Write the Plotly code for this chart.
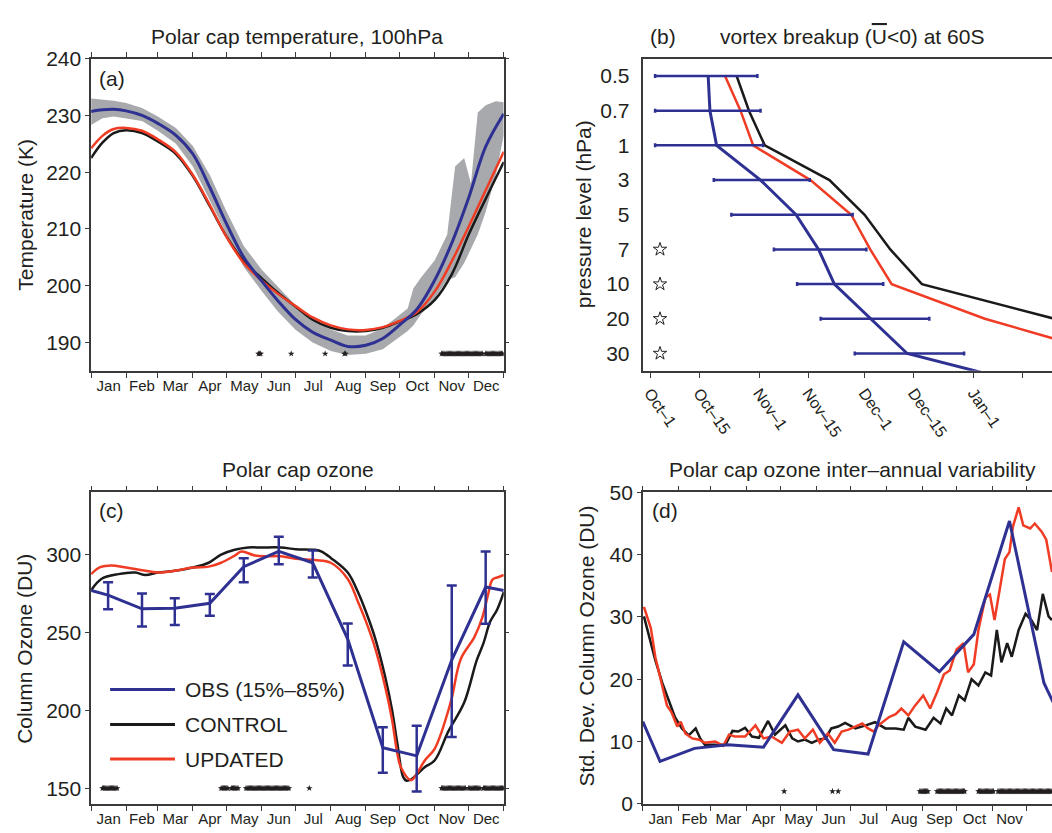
import plotly.graph_objects as go

# ---------------- shared -----------------
MONTHS = ["Jan", "Feb", "Mar", "Apr", "May", "Jun", "Jul", "Aug", "Sep", "Oct", "Nov", "Dec"]
MONTH_START = [0, 31, 59, 90, 120, 151, 181, 212, 243, 273, 304, 334, 365]
MONTH_MID = [15.5, 45, 74.5, 105, 135.5, 166, 196.5, 227.5, 258, 288.5, 319, 349.5]

# ---------------- panel (a): polar cap temperature 100 hPa -----------------
a_days = [0, 10, 20, 31, 45, 59, 75, 90, 105, 120, 135, 151, 165, 181, 196, 212, 227, 243,
          258, 273, 288, 304, 319, 334, 349, 365]
a_obs = [230.7, 231.0, 231.1, 230.8, 230.0, 228.6, 226.5, 223.2, 217.3, 210.8, 205.0, 200.8,
         197.4, 194.0, 191.8, 190.4, 189.3, 189.5, 190.7, 193.1, 195.8, 201.0, 207.5, 215.5,
         224.5, 230.3]
a_upd = [224.2, 226.4, 227.6, 227.8, 227.3, 225.8, 223.5, 219.5, 214.2, 208.5, 204.0, 200.9,
         198.6, 196.4, 194.4, 193.0, 192.3, 192.2, 192.7, 193.8, 195.3, 199.0, 204.3, 210.4,
         216.8, 223.6]
a_ctl = [222.5, 225.2, 226.9, 227.4, 226.9, 225.4, 223.2, 219.3, 214.0, 208.6, 204.3, 201.3,
         198.8, 196.3, 194.0, 192.6, 192.0, 192.0, 192.6, 193.7, 195.0, 197.5, 202.0, 209.0,
         215.3, 221.8]
band_days = [0, 10, 20, 31, 45, 59, 75, 90, 105, 120, 135, 151, 165, 181, 196, 212, 227, 243,
             258, 270, 280, 285, 292, 304, 315, 322, 330, 336, 342, 349, 358, 365]
band_hi = [233.0, 232.8, 232.6, 232.2, 231.3, 229.8, 227.8, 224.6, 219.5, 213.0, 207.0, 202.8,
           199.8, 196.5, 194.0, 192.3, 191.2, 191.2, 192.5, 194.5, 196.0, 199.5, 201.5, 204.5,
           209.0, 221.0, 222.5, 218.0, 230.5, 231.8, 232.5, 232.3]
band_lo = [228.3, 229.5, 229.8, 229.5, 229.0, 227.3, 225.0, 221.0, 215.0, 209.0, 203.3, 199.0,
           195.5, 192.2, 190.0, 188.5, 187.8, 188.0, 188.8, 190.5, 192.0, 193.0, 195.0, 197.8,
           201.0, 201.5, 204.0, 206.5, 209.0, 213.0, 219.5, 226.5]
a_sig_spans = [(148, 150), (177, 177), (207, 207), (224, 225), (310, 346), (349, 364)]
a_sig_level = 188

# ---------------- panel (b): vortex breakup date at 60S -----------------
b_levels = ["0.5", "0.7", "1", "3", "5", "7", "10", "20", "30", "50"]
b_tickvals = [0, 14, 31, 45, 61, 75, 92, 106]          # days after Oct-1
b_ticktext = ["Oct–1", "Oct–15", "Nov–1", "Nov–15", "Dec–1", "Dec–15", "Jan–1", "Jan–15"]
b_ctl = [24.6, 28.1, 32.6, 51.0, 61.0, 68.3, 77.3, 115.0, 140.0, 165.0]
b_upd = [21.3, 25.7, 29.3, 45.6, 57.2, 62.6, 68.7, 95.2, 129.5, 150.0]
b_obs = [16.5, 17.0, 18.9, 31.4, 41.5, 47.9, 52.4, 62.8, 73.1, 111.7]
b_err_levels = ["0.5", "0.7", "1", "3", "5", "7", "10", "20", "30"]
b_obs_lo = [1.4, 1.4, 1.4, 18.1, 23.1, 35.2, 41.8, 48.5, 58.2]
b_obs_hi = [30.5, 31.4, 32.1, 45.4, 57.6, 61.5, 66.3, 79.4, 89.3]
b_star_levels = ["7", "10", "20", "30"]
b_star_day = 2.8

# ---------------- panel (c): polar cap ozone -----------------
c_obs_days = [0, 15, 45, 74, 105, 135, 166, 196, 227, 258, 288, 319, 349, 365]
c_obs = [277.0, 274.0, 265.2, 265.6, 268.8, 292.3, 302.1, 294.8, 245.8, 176.0, 170.8, 232.3,
         279.2, 277.0]
c_err_days = [15, 45, 74, 105, 135, 166, 196, 227, 258, 288, 319, 349]
c_err_mid = [274.0, 265.2, 265.6, 268.8, 292.3, 302.1, 294.8, 245.8, 176.0, 170.8, 232.3, 279.2]
c_err_hi = [282.3, 275.0, 272.0, 274.8, 297.7, 311.5, 302.7, 255.8, 189.2, 190.2, 280.2, 302.1]
c_err_lo = [265.0, 253.8, 254.8, 260.8, 282.3, 293.8, 285.4, 228.8, 160.0, 147.9, 182.9, 255.6]
c_upd_days = [0, 8, 18, 31, 45, 59, 74, 90, 104, 115, 127, 133, 145, 157, 168, 181, 198, 212,
              227, 236, 243, 251, 260, 266, 271, 274, 283, 289, 295, 304, 318, 327, 339, 346,
              351, 355, 360, 365]
c_upd = [287.5, 292.0, 293.1, 291.7, 290.0, 288.5, 289.6, 291.7, 292.3, 294.8, 299.4, 302.0,
         299.4, 299.0, 299.0, 297.3, 296.5, 294.8, 284.4, 269.8, 257.3, 240.6, 215.6, 194.8,
         171.9, 163.5, 155.2, 160.4, 167.7, 175.5, 205.0, 233.0, 247.0, 259.5, 274.0, 284.0,
         285.5, 287.0]
c_ctl_days = [0, 9, 24, 39, 48, 59, 74, 90, 104, 115, 127, 139, 151, 168, 181, 198, 204, 212,
              227, 236, 243, 251, 260, 266, 271, 276, 279, 283, 289, 295, 304, 316, 330, 341,
              347, 353, 359, 365]
c_ctl = [277.1, 284.4, 287.5, 288.5, 286.9, 288.5, 289.6, 291.7, 294.8, 300.0, 303.1, 304.6,
         304.6, 304.6, 303.5, 303.1, 302.0, 297.9, 288.5, 276.0, 263.5, 246.9, 221.9, 201.0,
         178.1, 157.3, 154.8, 155.6, 159.4, 163.5, 168.0, 186.5, 205.0, 232.0, 243.0, 257.0,
         264.5, 276.0]
c_sig_spans = [(10, 23), (115, 121), (124, 130), (137, 175), (193, 193), (310, 331),
               (334, 344), (347, 365)]
c_sig_level = 150

# ---------------- panel (d): ozone inter-annual variability -----------------
d_obs_days = [0, 15, 45, 74, 105, 135, 166, 196, 227, 258, 288, 319, 349, 365]
d_obs = [13.2, 6.8, 8.9, 9.5, 9.1, 17.5, 8.7, 8.0, 26.0, 21.2, 27.2, 45.4, 19.4, 13.2]
d_ctl_days = [1, 5, 11, 17, 23, 28, 34, 40, 46, 50, 54, 63, 72, 78, 83, 89, 95, 101, 109, 115,
              124, 130, 135, 141, 147, 153, 159, 164, 170, 176, 185, 194, 202, 211, 220, 227,
              231, 237, 246, 253, 259, 264, 269, 275, 280, 286, 292, 298, 303, 308, 312, 317,
              321, 327, 333, 338, 343, 348, 353, 356]
d_ctl = [30.1, 27.2, 23.0, 19.4, 16.3, 13.9, 12.1, 11.0, 12.1, 10.5, 9.5, 9.5, 9.5, 11.7,
         11.6, 12.2, 10.8, 10.6, 13.3, 11.1, 12.6, 10.5, 10.0, 10.3, 9.8, 10.3, 10.5, 12.1,
         12.4, 13.0, 12.1, 12.6, 13.1, 12.1, 12.1, 11.9, 13.8, 12.4, 11.9, 13.8, 12.9, 15.3,
         14.2, 17.4, 16.6, 20.0, 19.0, 21.1, 20.6, 27.9, 22.7, 25.8, 23.6, 27.9, 30.5, 29.5,
         27.9, 33.7, 30.1, 29.5]
d_upd_days = [1, 7, 11, 17, 21, 25, 30, 33, 37, 43, 49, 54, 63, 70, 75, 80, 89, 98, 105, 112,
              121, 128, 135, 141, 148, 154, 161, 167, 173, 179, 185, 191, 196, 201, 205, 214,
              220, 225, 231, 237, 244, 250, 256, 262, 267, 273, 279, 283, 288, 292, 298, 302,
              306, 311, 315, 319, 322, 327, 331, 337, 341, 347, 351, 356]
d_upd = [31.6, 28.2, 23.5, 18.9, 15.8, 14.7, 12.4, 13.2, 11.3, 10.5, 10.3, 9.8, 10.0, 9.3,
         11.1, 10.8, 10.8, 12.6, 10.5, 10.8, 9.8, 11.6, 11.9, 10.5, 11.9, 9.8, 11.3, 9.8, 11.6,
         11.9, 12.4, 12.9, 12.1, 11.6, 12.6, 13.9, 14.4, 15.3, 14.2, 15.8, 17.4, 15.3, 17.9,
         20.8, 21.4, 24.8, 25.8, 21.1, 22.4, 27.9, 33.1, 33.6, 29.5, 34.7, 39.3, 40.4, 44.5,
         47.6, 44.7, 44.2, 45.0, 43.7, 42.4, 37.2]
d_sig_spans = [(123, 123), (165, 165), (170, 170), (241, 248), (256, 280), (292, 305),
               (309, 356)]
d_sig_level = 2

# ---------------- styling -----------------
BLUE = "#2E3192"
RED = "#F03C24"
BLACK = "#1A1A1A"
GRAY = "#A7A9AC"
AX = "#3A3A3A"
TXT = "#231F20"
FONT = "Liberation Sans, Arial, Helvetica, sans-serif"
W, H = 1052, 833


def span_days(spans):
    out = []
    for s, e in spans:
        out.extend(range(s, e + 1))
    return out


fig = go.Figure()

# panel a
fig.add_trace(go.Scatter(x=band_days, y=band_lo, mode="lines", line=dict(width=0, color=GRAY),
                         xaxis="x", yaxis="y", hoverinfo="skip"))
fig.add_trace(go.Scatter(x=band_days, y=band_hi, mode="lines", line=dict(width=0, color=GRAY),
                         fill="tonexty", fillcolor=GRAY, xaxis="x", yaxis="y", hoverinfo="skip"))
fig.add_trace(go.Scatter(x=a_days, y=a_ctl, mode="lines", line=dict(color=BLACK, width=2.5, shape="spline"),
                         xaxis="x", yaxis="y"))
fig.add_trace(go.Scatter(x=a_days, y=a_upd, mode="lines", line=dict(color=RED, width=2.5, shape="spline"),
                         xaxis="x", yaxis="y"))
fig.add_trace(go.Scatter(x=a_days, y=a_obs, mode="lines", line=dict(color=BLUE, width=3, shape="spline"),
                         xaxis="x", yaxis="y"))
sa = span_days(a_sig_spans)
fig.add_trace(go.Scatter(x=sa, y=[a_sig_level] * len(sa), mode="markers",
                         marker=dict(symbol="star", size=5, color=TXT), xaxis="x", yaxis="y"))

# panel b
fig.add_trace(go.Scatter(x=b_ctl, y=b_levels, mode="lines", line=dict(color=BLACK, width=2.5),
                         xaxis="x2", yaxis="y2"))
fig.add_trace(go.Scatter(x=b_upd, y=b_levels, mode="lines", line=dict(color=RED, width=2.5),
                         xaxis="x2", yaxis="y2"))
fig.add_trace(go.Scatter(x=b_obs, y=b_levels, mode="lines", line=dict(color=BLUE, width=3),
                         xaxis="x2", yaxis="y2"))
b_mid = b_obs[:len(b_err_levels)]
fig.add_trace(go.Scatter(
    x=b_mid, y=b_err_levels, mode="markers", marker=dict(size=1, color=BLUE),
    error_x=dict(type="data", symmetric=False,
                 array=[h - m for h, m in zip(b_obs_hi, b_mid)],
                 arrayminus=[m - l for l, m in zip(b_obs_lo, b_mid)],
                 color=BLUE, thickness=2.5, width=2),
    xaxis="x2", yaxis="y2"))
fig.add_trace(go.Scatter(x=[b_star_day] * len(b_star_levels), y=b_star_levels, mode="markers",
                         marker=dict(symbol="star-open", size=10, color=TXT, line=dict(width=1, color=TXT)),
                         xaxis="x2", yaxis="y2"))

# panel c
fig.add_trace(go.Scatter(x=c_ctl_days, y=c_ctl, mode="lines", line=dict(color=BLACK, width=2.5, shape="spline"),
                         xaxis="x3", yaxis="y3"))
fig.add_trace(go.Scatter(x=c_upd_days, y=c_upd, mode="lines", line=dict(color=RED, width=2.5, shape="spline"),
                         xaxis="x3", yaxis="y3"))
fig.add_trace(go.Scatter(x=c_obs_days, y=c_obs, mode="lines", line=dict(color=BLUE, width=3),
                         xaxis="x3", yaxis="y3"))
fig.add_trace(go.Scatter(
    x=c_err_days, y=c_err_mid, mode="markers", marker=dict(size=1, color=BLUE),
    error_y=dict(type="data", symmetric=False,
                 array=[h - m for h, m in zip(c_err_hi, c_err_mid)],
                 arrayminus=[m - l for l, m in zip(c_err_lo, c_err_mid)],
                 color=BLUE, thickness=2.5, width=5),
    xaxis="x3", yaxis="y3"))
sc = span_days(c_sig_spans)
fig.add_trace(go.Scatter(x=sc, y=[c_sig_level] * len(sc), mode="markers",
                         marker=dict(symbol="star", size=5, color=TXT), xaxis="x3", yaxis="y3"))

# panel d
fig.add_trace(go.Scatter(x=d_ctl_days, y=d_ctl, mode="lines", line=dict(color=BLACK, width=2.5),
                         xaxis="x4", yaxis="y4"))
fig.add_trace(go.Scatter(x=d_upd_days, y=d_upd, mode="lines", line=dict(color=RED, width=2.5),
                         xaxis="x4", yaxis="y4"))
fig.add_trace(go.Scatter(x=d_obs_days, y=d_obs, mode="lines", line=dict(color=BLUE, width=3),
                         xaxis="x4", yaxis="y4"))
sd = span_days(d_sig_spans)
fig.add_trace(go.Scatter(x=sd, y=[d_sig_level] * len(sd), mode="markers",
                         marker=dict(symbol="star", size=5, color=TXT), xaxis="x4", yaxis="y4"))


def month_axis(domain, anchor, rng):
    return dict(domain=domain, anchor=anchor, range=rng, tickmode="array",
                tickvals=MONTH_MID, ticktext=MONTHS, ticks="", showline=True, linecolor=AX,
                linewidth=1.5, mirror="allticks", showgrid=False, zeroline=False,
                tickfont=dict(size=15, color=TXT),
                minor=dict(tickmode="array", tickvals=MONTH_START, ticks="outside", ticklen=5,
                           tickcolor=AX, tickwidth=1, showgrid=False))


def val_axis(domain, anchor, rng, dtick, mirror="ticks"):
    return dict(domain=domain, anchor=anchor, range=rng, dtick=dtick, tick0=0, ticks="outside",
                ticklen=4, tickcolor=AX, tickwidth=1, showline=True, linecolor=AX, linewidth=1.5,
                mirror=mirror, showgrid=False, zeroline=False, tickfont=dict(size=21, color=TXT))


XA = [89.3 / W, 502.7 / W]
XB = [642.7 / W, 1.0]
XD = [642.0 / W, 1.0]
YTOP = [(H - 369) / H, (H - 48) / H]
YBOT = [(H - 814.3) / H, (H - 494) / H]

fig.update_layout(
    width=W, height=H, margin=dict(l=0, r=0, t=0, b=0),
    paper_bgcolor="white", plot_bgcolor="white", showlegend=False,
    font=dict(family=FONT, size=21, color=TXT),
    xaxis=month_axis(XA, "y", [0, 365]),
    yaxis=val_axis(YTOP, "x", [185, 240], 10),
    xaxis2=dict(domain=XB, anchor="y2", range=[-1.9, 114.3], tickmode="array",
                tickvals=b_tickvals, ticktext=b_ticktext, tickangle=55, ticks="outside",
                ticklen=5, tickcolor=AX, showline=True, linecolor=AX, linewidth=1.5, mirror=True,
                showgrid=False, zeroline=False, tickfont=dict(size=16, color=TXT)),
    yaxis2=dict(domain=YTOP, anchor="x2", type="category", categoryorder="array",
                categoryarray=b_levels, range=[8.5, -0.5], ticks="", ticklabelstandoff=8,
                showline=True, linecolor=AX, linewidth=1.5, mirror=False, showgrid=False,
                zeroline=False, tickfont=dict(size=21, color=TXT)),
    xaxis3=month_axis(XA, "y3", [0, 365]),
    yaxis3=val_axis(YBOT, "x3", [140, 340], 50),
    xaxis4=month_axis(XD, "y4", [0, 356]),
    yaxis4=val_axis(YBOT, "x4", [0, 50], 10, mirror=False),
)


def P(x, y):
    return x / W, 1 - y / H


anns = []


def text(s, x, y, size=21, angle=0, xanchor="center"):
    px, py = P(x, y)
    anns.append(dict(text=s, x=px, y=py, xref="paper", yref="paper", showarrow=False,
                     xanchor=xanchor, yanchor="middle", textangle=angle,
                     font=dict(size=size, color=TXT, family=FONT)))


text("Polar cap temperature, 100hPa", 296, 25)
text("(b)", 662.5, 25)
text('vortex breakup (<span style="text-decoration:overline">U</span>&lt;0) at 60S', 852, 25)
text("Polar cap ozone", 296.5, 471)
text("Polar cap ozone inter–annual variability", 852.5, 471)
text("(a)", 110, 68)
text("(c)", 110, 512.5)
text("(d)", 664, 512.5)
text("Temperature (K)", 24, 208.5, angle=-90)
text("Column Ozone (DU)", 23, 655, angle=-90)
text("pressure level (hPa)", 582, 208, angle=-90)
text("Std. Dev. Column Ozone (DU)", 586.5, 652, angle=-90)

# legend of panel (c)
legend_items = [("OBS (15%–85%)", BLUE, 696.7), ("CONTROL", BLACK, 732.7), ("UPDATED", RED, 768.3)]
shapes = []
for label, col, yy in legend_items:
    x0, y0 = P(108.3, yy)
    x1, _ = P(173.3, yy)
    shapes.append(dict(type="line", xref="paper", yref="paper", x0=x0, x1=x1, y0=y0, y1=y0,
                       line=dict(color=col, width=3)))
    text(label, 181.7, yy, xanchor="left")

fig.update_layout(annotations=anns, shapes=shapes)
fig.write_html("out.html")
